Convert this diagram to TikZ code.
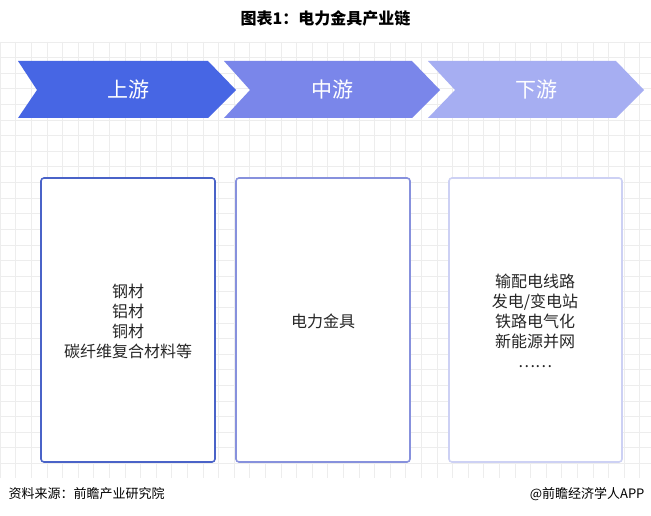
\documentclass[tikz,border=0pt]{standalone}
\usepackage{fontspec}
\setmainfont{Noto Sans CJK SC}
\begin{document}
\begin{tikzpicture}[x=1pt,y=-1pt,
  chev/.style={draw=none},
  box/.style={draw,line width=1.6pt,rounded corners=3pt},
  boxtxt/.style={align=center,font=\fontsize{16}{20}\selectfont,text=black!85},
  chtxt/.style={text=white,font=\fontsize{21}{24}\selectfont}]
\useasboundingbox (0,0) rectangle (651,516);
\fill[white] (0,0) rectangle (651,516);
\foreach \x in {0,15.6,...,651} \draw[black!7,line width=0.6pt] (\x,42) -- (\x,478);
\foreach \y in {42,57.6,...,478} \draw[black!7,line width=0.6pt] (0,\y) -- (651,\y);
\node[font=\bfseries\fontsize{16}{18}\selectfont] (title) at (325.5,18) {图表1：电力金具产业链};
\definecolor{c1}{HTML}{4766E4}\definecolor{c2}{HTML}{7A86EA}\definecolor{c3}{HTML}{A6AEF2}
\definecolor{b1}{HTML}{4A63C8}\definecolor{b2}{HTML}{8791DD}\definecolor{b3}{HTML}{CDD1F4}
\fill[c1] (18,61) -- (208,61) -- (236,90) -- (208,118) -- (18,118) -- (37,90) -- cycle;
\fill[c2] (224,61) -- (412,61) -- (440,90) -- (412,118) -- (224,118) -- (250,90) -- cycle;
\fill[c3] (428,61) -- (616,61) -- (644,90) -- (616,118) -- (428,118) -- (455,90) -- cycle;
\node[chtxt] (s1) at (128,90) {上游};
\node[chtxt] (s2) at (332,90) {中游};
\node[chtxt] (s3) at (536,90) {下游};
\draw[box,b1,fill=white] (41,178) rectangle (215,462);
\draw[box,b2,fill=white] (236,178) rectangle (410,462);
\draw[box,b3,fill=white] (449,178) rectangle (622,462);
\node[boxtxt] (t1) at (128,321) {钢材\\铝材\\铜材\\碳纤维复合材料等};
\node[boxtxt] (t2) at (323,321) {电力金具};
\node[boxtxt] (t3) at (535,321) {输配电线路\\发电/变电站\\铁路电气化\\新能源并网\\……};
\node[anchor=west,font=\fontsize{13}{15}\selectfont] (src) at (5,494) {资料来源：前瞻产业研究院};
\node[anchor=east,font=\fontsize{13}{15}\selectfont] (app) at (648,494) {@前瞻经济学人APP};
\end{tikzpicture}
\end{document}
